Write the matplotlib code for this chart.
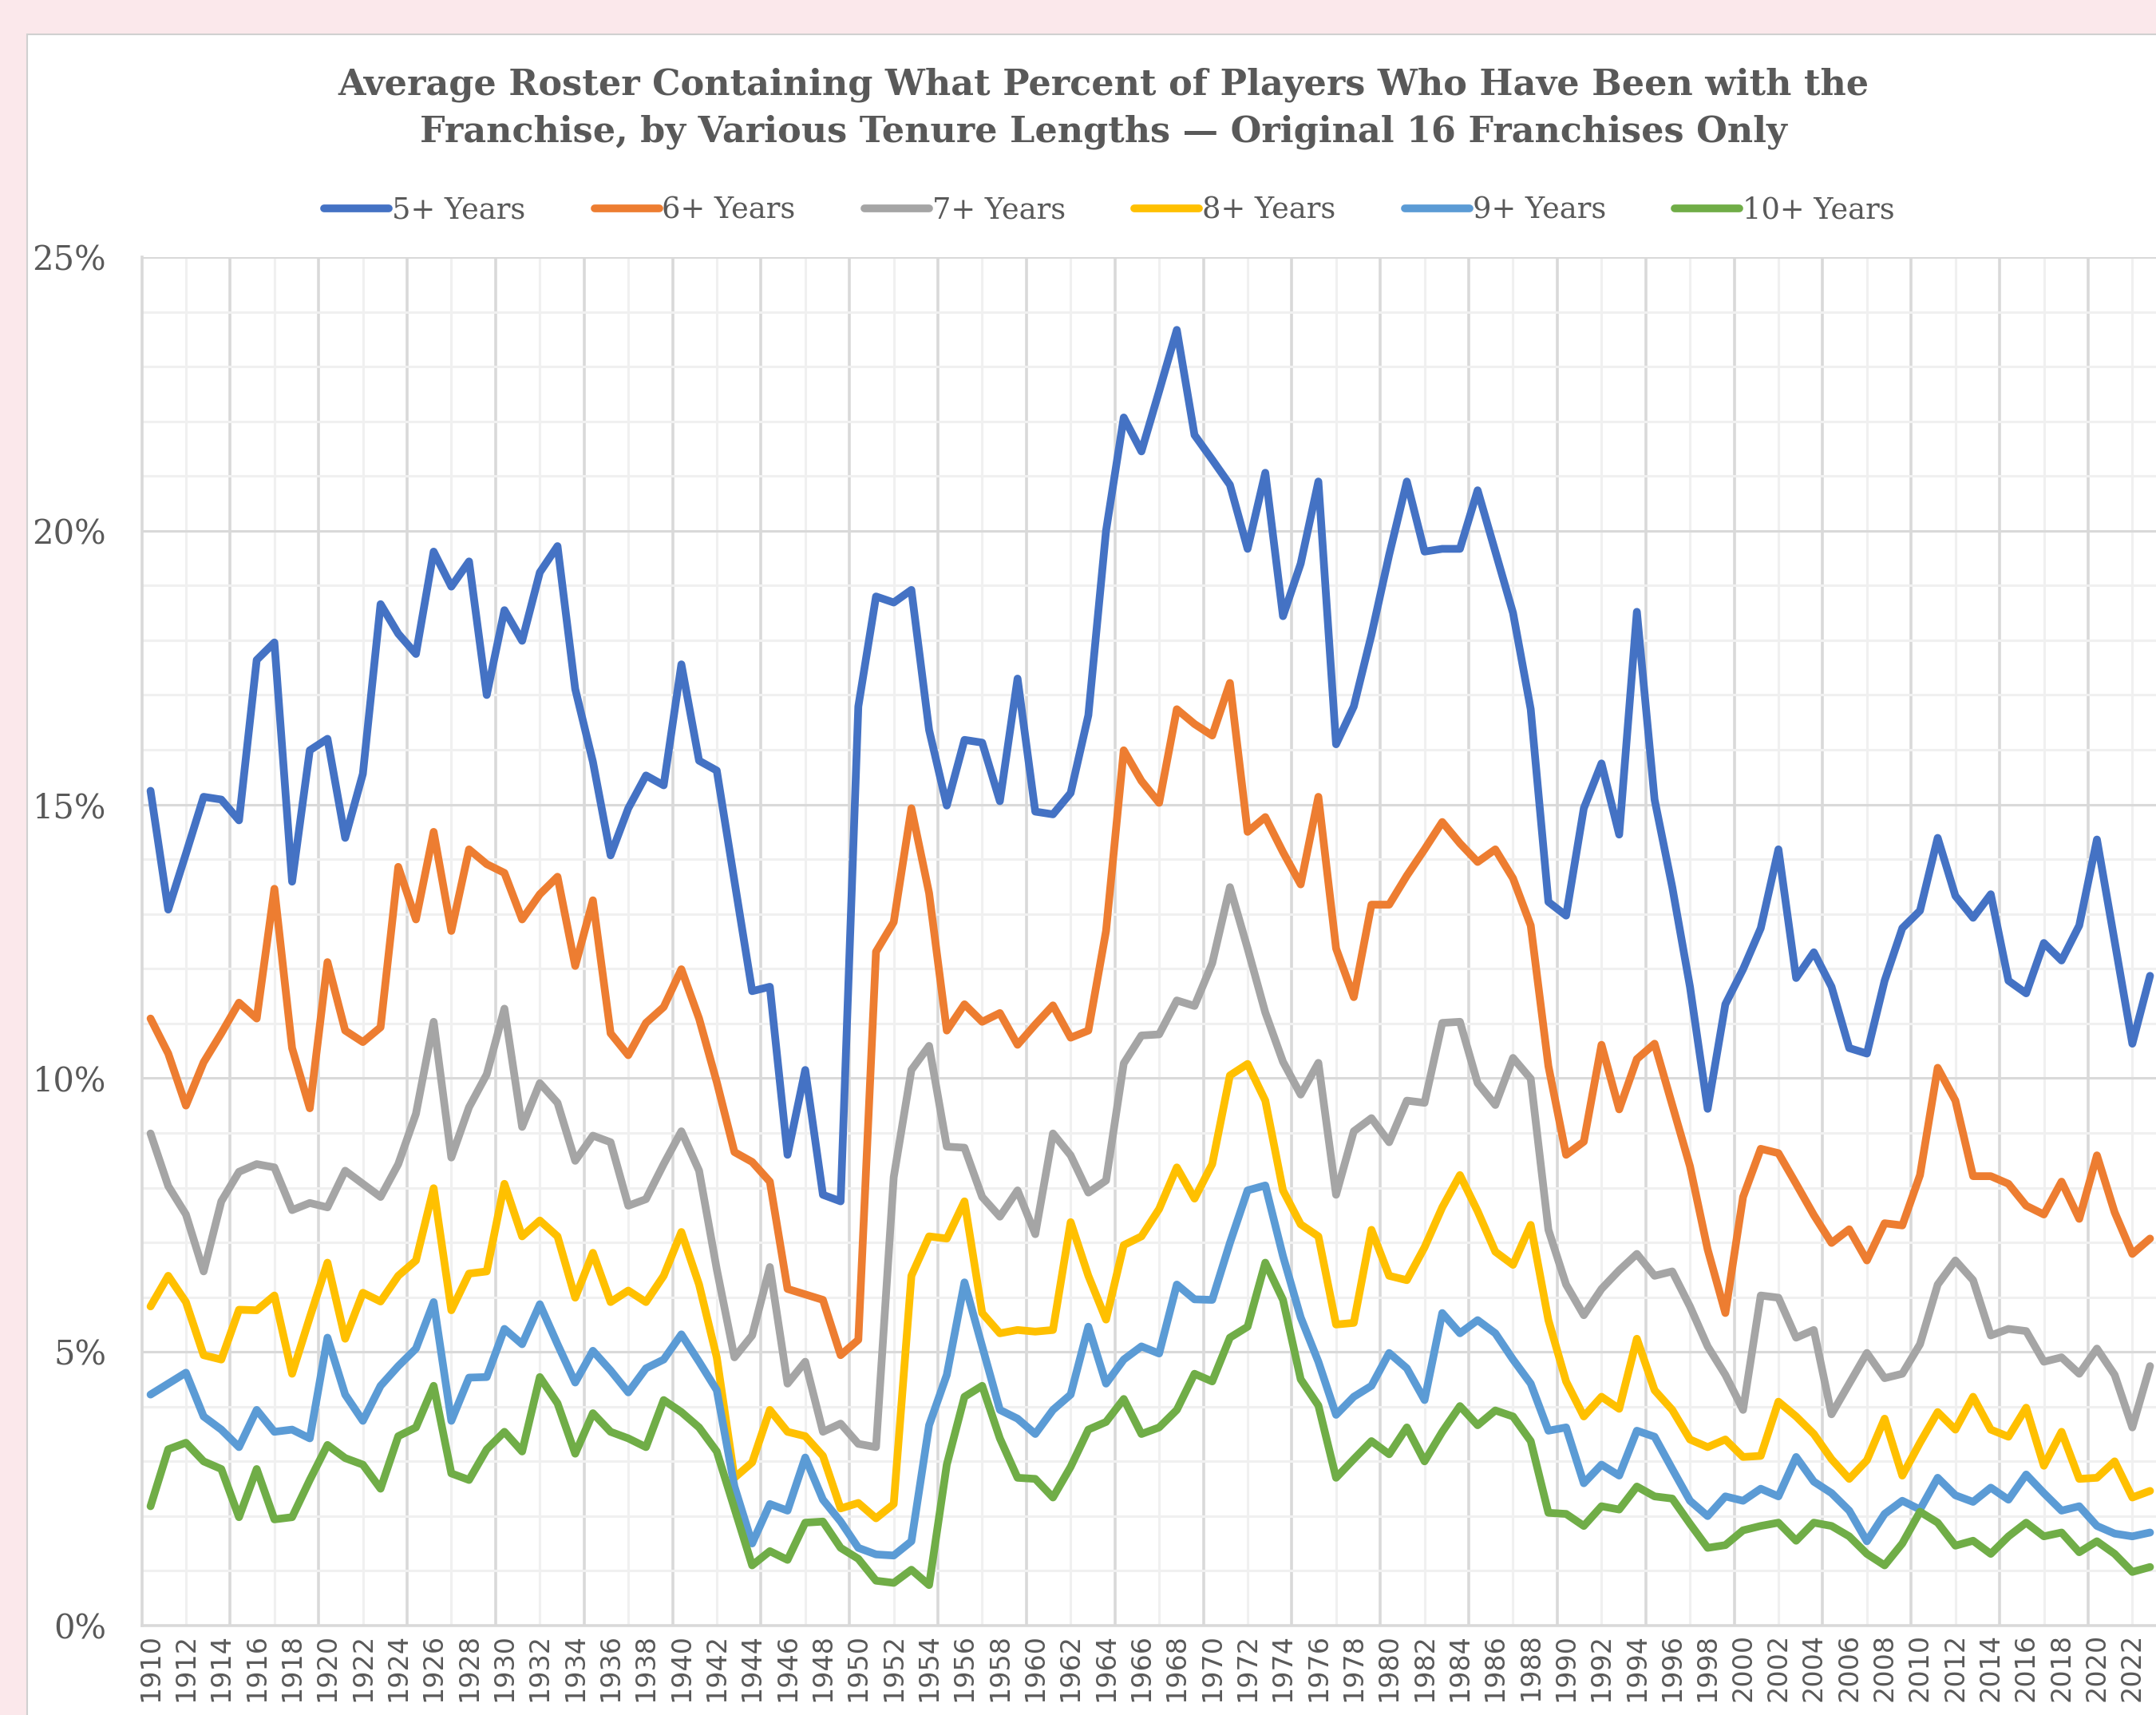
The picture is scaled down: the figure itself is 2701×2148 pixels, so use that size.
import numpy as np
import matplotlib
matplotlib.use("Agg")
import matplotlib.pyplot as plt
from matplotlib.ticker import MultipleLocator, FuncFormatter
from matplotlib.patches import Rectangle

# seasons 1910..2023
years = np.arange(1910, 2024)

# percent of roster, one decade per row
five_plus = [
    15.25, 13.08, 14.10, 15.14, 15.09, 14.71, 17.64, 17.96, 13.59, 15.99,
    16.20, 14.39, 15.56, 18.66, 18.12, 17.75, 19.62, 18.98, 19.44, 17.00,
    18.55, 17.99, 19.24, 19.72, 17.11, 15.78, 14.07, 14.93, 15.53, 15.35,
    17.56, 15.80, 15.62, 13.60, 11.59, 11.67, 8.60, 10.15, 7.87, 7.75,
    16.79, 18.80, 18.69, 18.92, 16.36, 14.98, 16.18, 16.13, 15.06, 17.30,
    14.87, 14.82, 15.21, 16.63, 20.00, 22.07, 21.45, 22.55, 23.67, 21.75,
    21.30, 20.84, 19.67, 21.06, 18.44, 19.40, 20.90, 16.10, 16.79, 18.10,
    19.56, 20.90, 19.62, 19.67, 19.67, 20.74, 19.62, 18.50, 16.74, 13.22,
    12.97, 14.93, 15.75, 14.45, 18.52, 15.09, 13.49, 11.67, 9.44, 11.35,
    11.99, 12.74, 14.18, 11.83, 12.30, 11.67, 10.55, 10.45, 11.78, 12.74,
    13.06, 14.39, 13.33, 12.93, 13.36, 11.78, 11.55, 12.47, 12.15, 12.79,
    14.36, 12.50, 10.63, 11.87,
]
six_plus = [
    11.09, 10.45, 9.50, 10.29, 10.82, 11.38, 11.09, 13.46, 10.55, 9.45,
    12.12, 10.87, 10.66, 10.93, 13.86, 12.90, 14.50, 12.69, 14.18, 13.91,
    13.75, 12.90, 13.36, 13.68, 12.05, 13.25, 10.82, 10.42, 11.01, 11.30,
    11.99, 11.09, 9.93, 8.65, 8.47, 8.11, 6.15, 6.05, 5.95, 4.94,
    5.22, 12.31, 12.85, 14.93, 13.38, 10.87, 11.35, 11.03, 11.19, 10.61,
    10.98, 11.33, 10.74, 10.87, 12.69, 15.99, 15.43, 15.03, 16.74, 16.47,
    16.26, 17.22, 14.50, 14.77, 14.13, 13.54, 15.14, 12.37, 11.48, 13.17,
    13.17, 13.70, 14.18, 14.68, 14.29, 13.95, 14.18, 13.65, 12.79, 10.22,
    8.60, 8.84, 10.61, 9.43, 10.35, 10.63, 9.51, 8.39, 6.87, 5.71,
    7.83, 8.71, 8.63, 8.07, 7.50, 6.99, 7.24, 6.67, 7.35, 7.31,
    8.23, 10.19, 9.59, 8.21, 8.21, 8.07, 7.67, 7.51, 8.11, 7.43,
    8.59, 7.55, 6.79, 7.07,
]
seven_plus = [
    8.99, 8.03, 7.51, 6.47, 7.75, 8.29, 8.43, 8.37, 7.59, 7.72,
    7.64, 8.31, 8.07, 7.83, 8.43, 9.35, 11.03, 8.55, 9.47, 10.07,
    11.27, 9.11, 9.91, 9.55, 8.49, 8.95, 8.83, 7.67, 7.79, 8.43,
    9.03, 8.31, 6.51, 4.90, 5.30, 6.55, 4.42, 4.82, 3.54, 3.69,
    3.32, 3.26, 8.19, 10.15, 10.59, 8.75, 8.73, 7.83, 7.47, 7.95,
    7.15, 8.99, 8.59, 7.91, 8.13, 10.27, 10.78, 10.80, 11.42, 11.32,
    12.10, 13.49, 12.37, 11.20, 10.30, 9.70, 10.28, 7.87, 9.03, 9.27,
    8.83, 9.59, 9.55, 11.01, 11.03, 9.91, 9.51, 10.37, 9.99, 7.23,
    6.23, 5.67, 6.15, 6.49, 6.79, 6.39, 6.47, 5.83, 5.10, 4.58,
    3.94, 6.03, 5.99, 5.26, 5.40, 3.86, 4.42, 4.98, 4.52, 4.60,
    5.14, 6.23, 6.67, 6.31, 5.30, 5.42, 5.38, 4.82, 4.90, 4.60,
    5.06, 4.58, 3.62, 4.74,
]
eight_plus = [
    5.83, 6.39, 5.91, 4.94, 4.86, 5.77, 5.76, 6.03, 4.60, 5.63,
    6.63, 5.24, 6.08, 5.92, 6.39, 6.67, 7.99, 5.76, 6.43, 6.47,
    8.07, 7.11, 7.40, 7.11, 5.99, 6.81, 5.91, 6.12, 5.91, 6.39,
    7.19, 6.23, 4.90, 2.70, 2.98, 3.94, 3.54, 3.46, 3.10, 2.14,
    2.24, 1.96, 2.22, 6.39, 7.11, 7.07, 7.75, 5.71, 5.34, 5.40,
    5.37, 5.40, 7.37, 6.39, 5.59, 6.95, 7.11, 7.61, 8.37, 7.80,
    8.43, 10.05, 10.26, 9.59, 7.95, 7.33, 7.11, 5.50, 5.53, 7.23,
    6.39, 6.31, 6.91, 7.64, 8.23, 7.57, 6.83, 6.59, 7.32, 5.58,
    4.46, 3.82, 4.18, 3.96, 5.24, 4.30, 3.94, 3.40, 3.26, 3.40,
    3.08, 3.10, 4.09, 3.82, 3.50, 3.04, 2.68, 3.02, 3.78, 2.74,
    3.34, 3.90, 3.58, 4.18, 3.58, 3.45, 3.98, 2.92, 3.54, 2.68,
    2.70, 3.00, 2.34, 2.46,
]
nine_plus = [
    4.22, 4.42, 4.62, 3.82, 3.58, 3.26, 3.94, 3.54, 3.58, 3.42,
    5.26, 4.22, 3.74, 4.38, 4.74, 5.06, 5.91, 3.74, 4.53, 4.54,
    5.42, 5.14, 5.87, 5.14, 4.44, 5.02, 4.66, 4.26, 4.70, 4.86,
    5.32, 4.82, 4.30, 2.54, 1.50, 2.22, 2.10, 3.07, 2.30, 1.90,
    1.42, 1.30, 1.28, 1.54, 3.66, 4.58, 6.27, 5.10, 3.94, 3.78,
    3.50, 3.94, 4.22, 5.46, 4.42, 4.86, 5.10, 4.97, 6.23, 5.96,
    5.95, 6.99, 7.95, 8.04, 6.75, 5.63, 4.82, 3.85, 4.18, 4.38,
    4.98, 4.70, 4.12, 5.71, 5.34, 5.58, 5.34, 4.86, 4.42, 3.56,
    3.62, 2.60, 2.94, 2.74, 3.56, 3.45, 2.86, 2.28, 2.00, 2.36,
    2.28, 2.50, 2.36, 3.08, 2.63, 2.42, 2.10, 1.54, 2.04, 2.28,
    2.12, 2.70, 2.38, 2.26, 2.52, 2.30, 2.76, 2.42, 2.10, 2.18,
    1.82, 1.68, 1.63, 1.70,
]
ten_plus = [
    2.18, 3.22, 3.34, 3.00, 2.86, 1.98, 2.86, 1.94, 1.98, 2.66,
    3.30, 3.06, 2.94, 2.50, 3.46, 3.62, 4.38, 2.78, 2.66, 3.22,
    3.54, 3.18, 4.54, 4.06, 3.14, 3.88, 3.54, 3.42, 3.26, 4.12,
    3.90, 3.62, 3.18, 2.14, 1.10, 1.36, 1.20, 1.88, 1.90, 1.42,
    1.22, 0.82, 0.78, 1.02, 0.74, 2.94, 4.18, 4.38, 3.42, 2.70,
    2.68, 2.34, 2.90, 3.58, 3.72, 4.14, 3.50, 3.62, 3.94, 4.60,
    4.46, 5.26, 5.46, 6.63, 5.95, 4.50, 4.02, 2.70, 3.04, 3.37,
    3.13, 3.62, 3.00, 3.54, 4.01, 3.66, 3.93, 3.82, 3.37, 2.06,
    2.04, 1.82, 2.18, 2.12, 2.54, 2.36, 2.32, 1.86, 1.42, 1.47,
    1.74, 1.82, 1.88, 1.55, 1.88, 1.82, 1.63, 1.31, 1.10, 1.50,
    2.08, 1.88, 1.46, 1.55, 1.31, 1.63, 1.88, 1.63, 1.70, 1.34,
    1.54, 1.31, 0.98, 1.07,
]

labels = ['5+ Years', '6+ Years', '7+ Years', '8+ Years', '9+ Years', '10+ Years']
series = [five_plus, six_plus, seven_plus, eight_plus, nine_plus, ten_plus]
colors = ['#4472C4', '#ED7D31', '#A5A5A5', '#FFC000', '#5B9BD5', '#70AD47']

title = ('Average Roster Containing What Percent of Players Who Have Been with the\n'
         'Franchise, by Various Tenure Lengths \u2014 Original 16 Franchises Only')

W, H = 2701, 2148
TEXT = '#595959'

fig = plt.figure(figsize=(W / 100, H / 100), dpi=100)
fig.patch.set_facecolor('#FBE8EB')

# white chart area with a thin border, cropped at right and bottom
fig.patches.append(Rectangle((34 / W, -0.01), 1.0, 1 - 43 / H + 0.01,
                             transform=fig.transFigure, facecolor='white',
                             edgecolor='#D0D0D0', linewidth=1.5, zorder=-10))

left, right, top, bottom = 177.5, 2704.6, 322, 2036
ax = fig.add_axes([left / W, 1 - bottom / H, (right - left) / W, (bottom - top) / H])
ax.set_zorder(1)
ax.set_facecolor('none')

ax.set_xlim(1909.5, 2023.5)
ax.set_ylim(0, 25)

# horizontal grid
ax.set_yticks(np.arange(0, 26, 5))
ax.yaxis.set_minor_locator(MultipleLocator(1))
ax.grid(axis='y', which='major', color='#D9D9D9', linewidth=2.2, zorder=1)
ax.grid(axis='y', which='minor', color='#F0F0F0', linewidth=2.2, zorder=0.5)
ax.yaxis.set_major_formatter(FuncFormatter(lambda v, p: f'{v:.0f}%'))

# vertical grid (Excel-style, between categories)
for xv in np.arange(1914.5, 2024, 5):
    ax.axvline(xv, color='#D9D9D9', linewidth=2.6, zorder=1)
for xv in np.arange(1912, 2024, 5):
    ax.axvline(xv, color='#F0F0F0', linewidth=2.2, zorder=0.5)

for vals, lab, col in zip(series, labels, colors):
    ax.plot(years, vals, color=col, linewidth=7, label=lab, zorder=3,
            solid_joinstyle='round', solid_capstyle='round')

ax.set_xticks(years[::2])
ax.set_xticklabels([str(y) for y in years[::2]], rotation=90,
                   fontsize=24, color=TEXT, family='DejaVu Sans')
for t in ax.get_yticklabels():
    t.set_fontfamily('DejaVu Serif')
    t.set_fontsize(30)
    t.set_color(TEXT)
ax.tick_params(axis='both', which='both', length=0)
ax.tick_params(axis='x', pad=7)
ax.tick_params(axis='y', pad=32)

for side in ['top', 'right']:
    ax.spines[side].set_visible(False)
for side in ['left', 'bottom']:
    ax.spines[side].set_color('#D9D9D9')
    ax.spines[side].set_linewidth(2.6)

fig.text(1382 / W, 1 - 136 / H, title, ha='center', va='center',
         fontsize=32, fontweight='bold', color=TEXT, family='DejaVu Serif',
         linespacing=1.45)

leg = fig.legend(loc='center', bbox_to_anchor=(1390 / W, 1 - 264 / H), ncol=6,
                 frameon=False, handlelength=2.2, handletextpad=0.1,
                 columnspacing=2.35, prop={'family': 'DejaVu Serif', 'size': 26.5})
for t in leg.get_texts():
    t.set_color(TEXT)

fig.savefig('out.png', dpi=100, facecolor=fig.get_facecolor())
